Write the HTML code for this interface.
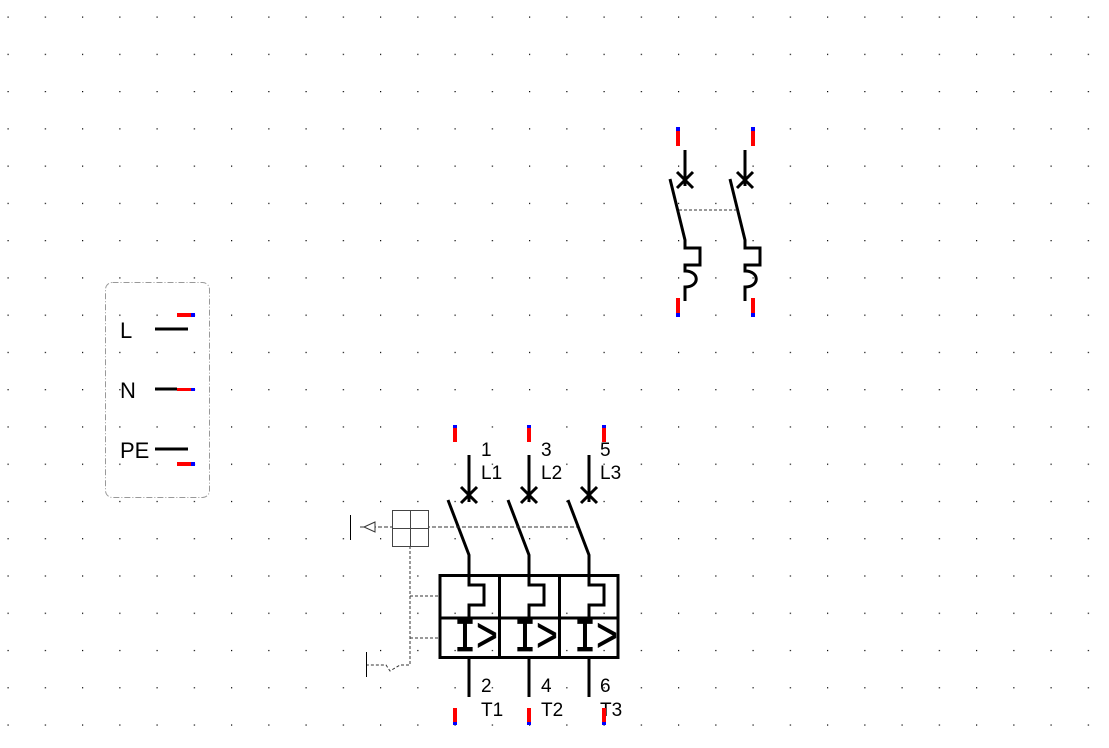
<!DOCTYPE html>
<html><head><meta charset="utf-8"><style>
html,body{margin:0;padding:0;background:#fff;}
svg{display:block;}
text{font-family:"Liberation Sans",sans-serif;fill:#000;}
</style></head><body>
<svg width="1109" height="748" viewBox="0 0 1109 748" xmlns="http://www.w3.org/2000/svg">
<defs>
<pattern id="g" x="7.5" y="16.5" width="37.25" height="37.26" patternUnits="userSpaceOnUse">
<rect x="0" y="0" width="1.2" height="1.2" fill="#000"/>
</pattern>
</defs>
<rect width="1109" height="748" fill="url(#g)"/>

<g stroke="#000" stroke-width="3" fill="none" stroke-linecap="butt">
<path d="M685 150 V186 M677 172 L693 188 M693 172 L677 188"/>
<path d="M670 179 L685 240 V248 H700 V265 H685 V271 C700 271 700 287 685 287 V301"/>
<path d="M745 150 V186 M737 172 L753 188 M753 172 L737 188"/>
<path d="M730 179 L745 240 V248 H760 V265 H745 V271 C760 271 760 287 745 287 V301"/>
</g>
<line x1="679" y1="210" x2="737" y2="210" stroke="#333" stroke-width="1" stroke-dasharray="3,2"/>
<g>
<rect x="676" y="127" width="4" height="4" fill="#00f"/><rect x="676" y="131" width="4" height="15" fill="#f00"/>
<rect x="751" y="127" width="4" height="4" fill="#00f"/><rect x="751" y="131" width="4" height="15" fill="#f00"/>
<rect x="676" y="298" width="4" height="15" fill="#f00"/><rect x="676" y="313" width="4" height="4" fill="#00f"/>
<rect x="751" y="298" width="4" height="15" fill="#f00"/><rect x="751" y="313" width="4" height="4" fill="#00f"/>
</g>

<rect x="105.5" y="282.5" width="104" height="215" rx="7" fill="none" stroke="#999" stroke-width="1" stroke-dasharray="6,2,1,2"/>
<text x="120" y="338" font-size="22">L</text>
<text x="120" y="398" font-size="22">N</text>
<text x="120" y="458" font-size="22">PE</text>
<g stroke="#000" stroke-width="3">
<line x1="155" y1="329" x2="188" y2="329"/>
<line x1="155" y1="389" x2="177" y2="389"/>
<line x1="155" y1="449" x2="188" y2="449"/>
</g>
<rect x="177" y="313" width="14" height="4" fill="#f00"/><rect x="191" y="313" width="4" height="4" fill="#00f"/>
<rect x="177" y="388" width="14" height="3" fill="#f00"/><rect x="191" y="388" width="4" height="3" fill="#00f"/>
<rect x="177" y="462" width="14" height="4" fill="#f00"/><rect x="191" y="462" width="4" height="4" fill="#00f"/>

<g stroke="#000" stroke-width="3" fill="none">
<path d="M469 455 V502 M461 487 L477 503 M477 487 L461 503"/>
<path d="M448 500 L469 555 V585 H484 V605 H469 V618"/>
<path d="M529 455 V502 M521 487 L537 503 M537 487 L521 503"/>
<path d="M508 500 L529 555 V585 H544 V605 H529 V618"/>
<path d="M589 455 V502 M581 487 L597 503 M597 487 L581 503"/>
<path d="M568 500 L589 555 V585 H604 V605 H589 V618"/>
<rect x="440" y="575.5" width="178" height="82"/>
<line x1="440" y1="618" x2="618" y2="618"/>
<line x1="499.5" y1="575" x2="499.5" y2="658"/>
<line x1="559.5" y1="575" x2="559.5" y2="658"/>
<path d="M469 658 V697 M529 658 V697 M589 658 V697"/>
</g>
<g>
<text transform="translate(454,651) scale(1,1.25)" x="0" y="0" font-size="38" textLength="44" lengthAdjust="spacingAndGlyphs" stroke="#000" stroke-width="0.6" style="font-family:'Liberation Mono',monospace">I&gt;</text>
<text transform="translate(514,651) scale(1,1.25)" x="0" y="0" font-size="38" textLength="44" lengthAdjust="spacingAndGlyphs" stroke="#000" stroke-width="0.6" style="font-family:'Liberation Mono',monospace">I&gt;</text>
<text transform="translate(574,651) scale(1,1.25)" x="0" y="0" font-size="38" textLength="44" lengthAdjust="spacingAndGlyphs" stroke="#000" stroke-width="0.6" style="font-family:'Liberation Mono',monospace">I&gt;</text>
</g>
<g font-size="19">
<text x="481" y="456">1</text><text x="481" y="479">L1</text>
<text x="541" y="456">3</text><text x="541" y="479">L2</text>
<text x="600" y="456">5</text><text x="600" y="479">L3</text>
<text x="481" y="692">2</text><text x="481" y="716">T1</text>
<text x="541" y="692">4</text><text x="541" y="716">T2</text>
<text x="600" y="692">6</text><text x="600" y="716">T3</text>
</g>
<g>
<rect x="453" y="425" width="4" height="3" fill="#00f"/><rect x="453" y="428" width="4" height="14" fill="#f00"/>
<rect x="527" y="425" width="4" height="3" fill="#00f"/><rect x="527" y="428" width="4" height="14" fill="#f00"/>
<rect x="602" y="425" width="4" height="3" fill="#00f"/><rect x="602" y="428" width="4" height="14" fill="#f00"/>
<rect x="453" y="708" width="4" height="14" fill="#f00"/><rect x="453" y="722" width="4" height="3" fill="#00f"/>
<rect x="527" y="708" width="4" height="14" fill="#f00"/><rect x="527" y="722" width="4" height="3" fill="#00f"/>
<rect x="602" y="708" width="4" height="14" fill="#f00"/><rect x="602" y="722" width="4" height="3" fill="#00f"/>
</g>
<g stroke="#333" stroke-width="1" fill="none">
<path d="M360 527 H577" stroke-dasharray="4,2"/>
<path d="M410 546 V665 H400 L390 671 L386 665 H366" stroke-dasharray="3,2"/>
<path d="M410 596 H439 M410 638 H439" stroke-dasharray="3,2"/>
</g>
<rect x="392.5" y="510.5" width="36" height="36" fill="#fff" stroke="#444" stroke-width="1"/>
<path d="M410.5 510 V547 M392 528.5 H429" stroke="#444" stroke-width="1"/>
<path d="M375 522 L364 527 L375 532 Z" fill="#fff" stroke="#333" stroke-width="1"/>
<line x1="350.5" y1="515" x2="350.5" y2="540" stroke="#000" stroke-width="1"/>
<line x1="366.5" y1="652" x2="366.5" y2="677" stroke="#000" stroke-width="1"/>
</svg>
</body></html>
